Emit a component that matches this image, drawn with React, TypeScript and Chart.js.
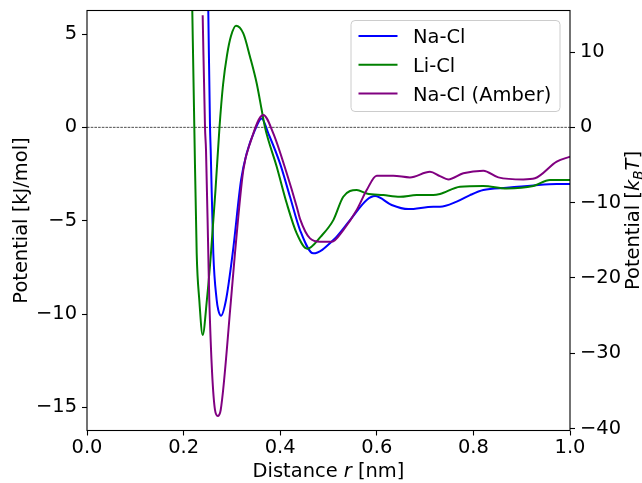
import { useEffect, useRef } from "react";
import { Chart, registerables } from "chart.js";

Chart.register(...registerables);

// ---- data (r in nm, potential in kJ/mol) ----
const naclR = [0.2461, 0.2511, 0.2547, 0.2561, 0.2615, 0.2685, 0.2718, 0.2774, 0.2878, 0.3017, 0.319, 0.3306, 0.3478, 0.3617, 0.3754, 0.3996, 0.4203, 0.441, 0.4685, 0.51, 0.5445, 0.5791, 0.5963, 0.6308, 0.6652, 0.717, 0.7308, 0.7654, 0.793, 0.8205, 0.8689, 0.924, 0.9725, 1.0];
const naclV = [15, 6.28, 0.0, -1.22, -6.73, -9.25, -9.79, -10.09, -9.25, -6.73, -2.82, -1.39, -0.14, 0.48, -0.32, -1.93, -3.72, -5.5, -6.75, -6.04, -4.97, -3.89, -3.68, -4.16, -4.38, -4.25, -4.25, -3.98, -3.63, -3.36, -3.23, -3.11, -3.04, -3.04];

const liclR = [0.2122, 0.218, 0.2222, 0.2271, 0.2325, 0.2395, 0.2482, 0.2567, 0.266, 0.2743, 0.2816, 0.2899, 0.2981, 0.3085, 0.3236, 0.3375, 0.3513, 0.3617, 0.3685, 0.3928, 0.4135, 0.4342, 0.456, 0.484, 0.51, 0.5306, 0.5584, 0.5791, 0.6135, 0.648, 0.6826, 0.717, 0.7308, 0.7723, 0.8205, 0.8689, 0.924, 0.9586, 1.0];
const liclV = [15, 6.25, 0.0, -6.74, -9.25, -11.12, -9.25, -6.73, -3.36, 0.0, 2.27, 3.87, 4.89, 5.44, 5.03, 3.78, 2.36, 0.93, 0.0, -2.11, -4.07, -5.68, -6.5, -5.85, -4.97, -3.72, -3.36, -3.54, -3.63, -3.72, -3.63, -3.63, -3.57, -3.18, -3.14, -3.27, -3.14, -2.82, -2.82];

const amberR = [0.2395, 0.2443, 0.2464, 0.2511, 0.2532, 0.265, 0.2706, 0.2768, 0.2981, 0.3064, 0.3236, 0.3375, 0.365, 0.3857, 0.4135, 0.4342, 0.441, 0.4617, 0.4824, 0.5066, 0.5306, 0.5584, 0.5791, 0.5998, 0.6342, 0.6687, 0.7101, 0.7308, 0.748, 0.7791, 0.8205, 0.8516, 0.9033, 0.9275, 0.9725, 1.0];
const amberV = [6.01, 0.0, -1.22, -6.73, -9.25, -15.14, -15.46, -15.14, -9.25, -6.73, -2.29, -0.86, 0.66, -0.32, -2.46, -4.25, -4.9, -5.95, -6.13, -6.13, -5.5, -4.43, -3.36, -2.59, -2.59, -2.68, -2.38, -2.61, -2.79, -2.46, -2.32, -2.68, -2.79, -2.73, -1.84, -1.57];

const zeroR = [0, 1];
const zeroV = [0, 0];

const seriesNames = ["Na-Cl", "Li-Cl", "Na-Cl (Amber)"];
const seriesColors = ["#0000ff", "#008000", "#800080"];

const xTicks = [0, 0.2, 0.4, 0.6, 0.8, 1.0];
const yTicks = [5, 0, -5, -10, -15];
const y2Ticks = [10, 0, -10, -20, -30, -40];

const Y_MIN = -16.24;
const Y_MAX = 6.26;
const KBT = 2.479; // ratio between right and left axes

const FAMILY = '"DejaVu Sans", sans-serif';
const FS = 19.44;

const pts = (r: number[], v: number[]) => r.map((x, i) => ({ x, y: v[i] }));
const fmt = (v: number) => (v < 0 ? "\u2212" + Math.abs(v) : String(v));

type Seg = { t: string; font: string; dy?: number };

function drawSegs(ctx: CanvasRenderingContext2D, segs: Seg[], cx: number, by: number) {
  let total = 0;
  for (const s of segs) {
    ctx.font = s.font;
    total += ctx.measureText(s.t).width;
  }
  let x = cx - total / 2;
  ctx.textAlign = "left";
  ctx.textBaseline = "alphabetic";
  for (const s of segs) {
    ctx.font = s.font;
    ctx.fillText(s.t, x, by + (s.dy || 0));
    x += ctx.measureText(s.t).width;
  }
}

const decor = {
  id: "decor",
  afterDraw(chart: any) {
    const { ctx, chartArea: a } = chart;
    const normal = `${FS}px ${FAMILY}`;
    const ital = `italic ${FS}px ${FAMILY}`;
    const sub = `italic ${FS * 0.7}px ${FAMILY}`;
    ctx.save();
    // frame
    ctx.strokeStyle = "#000";
    ctx.lineWidth = 1.1;
    ctx.strokeRect(a.left, a.top, a.right - a.left, a.bottom - a.top);

    // legend
    const lx = 351, ly = 20.5, lw = 209, lh = 91, rad = 4;
    ctx.beginPath();
    ctx.moveTo(lx + rad, ly);
    ctx.lineTo(lx + lw - rad, ly);
    ctx.quadraticCurveTo(lx + lw, ly, lx + lw, ly + rad);
    ctx.lineTo(lx + lw, ly + lh - rad);
    ctx.quadraticCurveTo(lx + lw, ly + lh, lx + lw - rad, ly + lh);
    ctx.lineTo(lx + rad, ly + lh);
    ctx.quadraticCurveTo(lx, ly + lh, lx, ly + lh - rad);
    ctx.lineTo(lx, ly + rad);
    ctx.quadraticCurveTo(lx, ly, lx + rad, ly);
    ctx.closePath();
    ctx.fillStyle = "rgba(255,255,255,0.8)";
    ctx.fill();
    ctx.strokeStyle = "#cccccc";
    ctx.lineWidth = 1;
    ctx.stroke();
    seriesNames.forEach((name, i) => {
      const y = 36 + i * 28.7;
      ctx.strokeStyle = seriesColors[i];
      ctx.lineWidth = 2;
      ctx.beginPath();
      ctx.moveTo(358.5, y);
      ctx.lineTo(397.5, y);
      ctx.stroke();
      ctx.fillStyle = "#000";
      ctx.font = normal;
      ctx.textAlign = "left";
      ctx.textBaseline = "alphabetic";
      ctx.fillText(name, 413, y + 7.2);
    });

    ctx.fillStyle = "#000";
    // x label
    drawSegs(ctx, [
      { t: "Distance ", font: normal },
      { t: "r", font: ital },
      { t: " [nm]", font: normal },
    ], (a.left + a.right) / 2, 477);

    const cy = (a.top + a.bottom) / 2;
    // left y label
    ctx.save();
    ctx.translate(27, cy);
    ctx.rotate(-Math.PI / 2);
    drawSegs(ctx, [{ t: "Potential [kJ/mol]", font: normal }], 0, 0);
    ctx.restore();

    // right y label
    ctx.save();
    ctx.translate(639, cy);
    ctx.rotate(-Math.PI / 2);
    drawSegs(ctx, [
      { t: "Potential [", font: normal },
      { t: "k", font: ital },
      { t: "B", font: sub, dy: 4 },
      { t: "T", font: ital },
      { t: "]", font: normal },
    ], 0, 0);
    ctx.restore();

    ctx.restore();
  },
};

export default function App() {
  const ref = useRef<HTMLCanvasElement | null>(null);
  useEffect(() => {
    if (!ref.current) return;
    const tickFont = { family: FAMILY, size: FS };
    const grid = {
      display: true,
      drawOnChartArea: false,
      drawTicks: true,
      tickLength: 5,
      tickWidth: 1.1,
      tickColor: "#000",
    };
    const noPad = (s: any) => {
      s.paddingTop = 0;
      s.paddingBottom = 0;
      s.paddingLeft = 0;
      s.paddingRight = 0;
    };
    const chart = new Chart(ref.current, {
      type: "line",
      data: {
        datasets: [
          {
            label: "zero",
            data: pts(zeroR, zeroV),
            borderColor: "#000",
            borderWidth: 0.7,
            borderDash: [2.6, 1.1],
            pointRadius: 0,
            order: 3,
            clip: 0,
          },
          {
            label: seriesNames[0],
            data: pts(naclR, naclV),
            borderColor: seriesColors[0],
            borderWidth: 2,
            pointRadius: 0,
            cubicInterpolationMode: "monotone",
            order: 2,
            clip: 0,
          },
          {
            label: seriesNames[1],
            data: pts(liclR, liclV),
            borderColor: seriesColors[1],
            borderWidth: 2,
            pointRadius: 0,
            cubicInterpolationMode: "monotone",
            order: 1,
            clip: 0,
          },
          {
            label: seriesNames[2],
            data: pts(amberR, amberV),
            borderColor: seriesColors[2],
            borderWidth: 2,
            pointRadius: 0,
            cubicInterpolationMode: "monotone",
            order: 0,
            clip: 0,
          },
        ] as any,
      },
      options: {
        animation: false,
        responsive: true,
        maintainAspectRatio: false,
        layout: { padding: { top: 10.5, left: 0, right: 0, bottom: 0 } },
        plugins: { legend: { display: false }, tooltip: { enabled: false } },
        scales: {
          x: {
            type: "linear",
            min: 0,
            max: 1,
            grid,
            border: { display: false },
            ticks: {
              font: tickFont,
              color: "#000",
              padding: 1,
              maxRotation: 0,
              callback: (v: any) => Number(v).toFixed(1),
            },
            afterBuildTicks: (s: any) => {
              s.ticks = xTicks.map((value) => ({ value }));
            },
            afterFit: (s: any) => {
              s.height = 52.5;
              noPad(s);
            },
          },
          y: {
            type: "linear",
            position: "left",
            min: Y_MIN,
            max: Y_MAX,
            grid,
            border: { display: false },
            ticks: { font: tickFont, color: "#000", padding: 5, callback: (v: any) => fmt(Number(v)) },
            afterBuildTicks: (s: any) => {
              s.ticks = yTicks.map((value) => ({ value }));
            },
            afterFit: (s: any) => {
              s.width = 87;
              noPad(s);
            },
          },
          y2: {
            type: "linear",
            position: "right",
            min: Y_MIN * KBT,
            max: Y_MAX * KBT,
            grid,
            border: { display: false },
            ticks: { font: tickFont, color: "#000", padding: 5, callback: (v: any) => fmt(Number(v)) },
            afterBuildTicks: (s: any) => {
              s.ticks = y2Ticks.map((value) => ({ value }));
            },
            afterFit: (s: any) => {
              s.width = 72;
              noPad(s);
            },
          },
        },
      } as any,
      plugins: [decor],
    });
    return () => chart.destroy();
  }, []);
  return (
    <div style={{ position: "fixed", left: 0, top: 0, width: 642, height: 483, background: "#fff" }}>
      <canvas ref={ref} style={{ display: "block" }} />
    </div>
  );
}
